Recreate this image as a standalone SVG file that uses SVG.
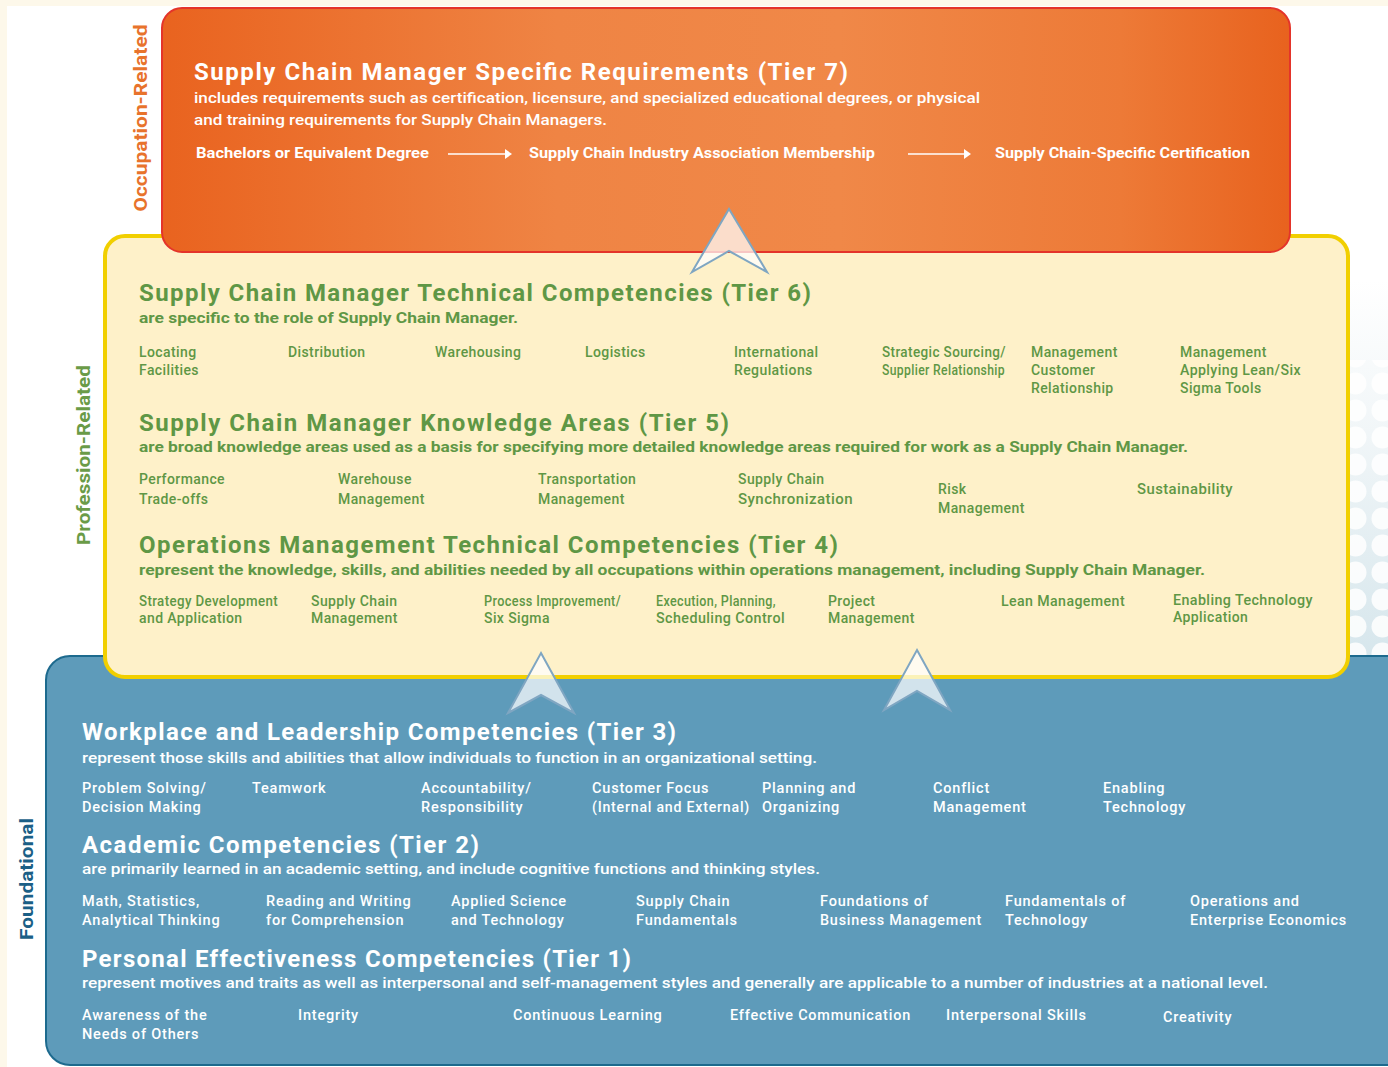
<svg xmlns="http://www.w3.org/2000/svg" width="1388" height="1067" viewBox="0 0 1388 1067">
  <defs>
    <linearGradient id="orangeGrad" x1="0" y1="0" x2="1" y2="0">
      <stop offset="0" stop-color="#e9631f"/>
      <stop offset="0.35" stop-color="#ef8444"/>
      <stop offset="0.6" stop-color="#f08848"/>
      <stop offset="0.85" stop-color="#ed7a37"/>
      <stop offset="1" stop-color="#e8621e"/>
    </linearGradient>
    <linearGradient id="dotFade" x1="0" y1="0" x2="0" y2="1">
      <stop offset="0" stop-color="#ffffff"/>
      <stop offset="0.4" stop-color="#f1f6f8"/>
      <stop offset="1" stop-color="#d6e6ec"/>
    </linearGradient>
    <linearGradient id="dotMaskFade" x1="0" y1="0" x2="0" y2="1">
      <stop offset="0" stop-color="#ffffff" stop-opacity="0"/>
      <stop offset="0.5" stop-color="#ffffff" stop-opacity="0.8"/>
      <stop offset="1" stop-color="#ffffff" stop-opacity="1"/>
    </linearGradient>
    <pattern id="dots" width="27" height="27" patternUnits="userSpaceOnUse" x="1342" y="262">
      <circle cx="13.5" cy="13.5" r="11" fill="#ffffff"/>
    </pattern>
    <style>
      text { font-family: Roboto, "Liberation Sans", Arial, sans-serif; }
      .side { font-size: 18px; font-weight: 700; text-anchor: middle; }
      .title { font-size: 24px; font-weight: 700; }
      .sub { font-size: 15.5px; font-weight: 500; }
      .subb { font-size: 15px; font-weight: 700; }
      .item { font-size: 14px; font-weight: 500; }
      .g.item { letter-spacing: 0.4px; }
      .w.item { font-size: 14.5px; letter-spacing: 0.8px; }
      .req { font-size: 14px; font-weight: 700; }
      .w { fill: #ffffff; }
      .g { fill: #5f9745; }
      .chev { fill: #ffffff; fill-opacity: 0.72; stroke: #7fa6c2; stroke-width: 2; stroke-linejoin: miter; }
    </style>
  </defs>

  <!-- page background -->
  <rect x="0" y="0" width="1388" height="1067" fill="#fdf8ea"/>
  <rect x="7" y="6" width="1381" height="1061" fill="#ffffff"/>
  <rect x="1340" y="280" width="48" height="380" fill="url(#dotFade)"/>
  <rect x="1340" y="360" width="48" height="300" fill="url(#dots)" opacity="0.85"/>

  <!-- side labels -->
  <text class="side" fill="#e8732c" transform="translate(147,118) rotate(-90)" textLength="187" lengthAdjust="spacingAndGlyphs">Occupation-Related</text>
  <text class="side" fill="#6a9b47" transform="translate(90,455) rotate(-90)" textLength="180" lengthAdjust="spacingAndGlyphs">Profession-Related</text>
  <text class="side" fill="#1b5f86" transform="translate(33,879) rotate(-90)" textLength="122" lengthAdjust="spacingAndGlyphs">Foundational</text>

  <!-- Foundational tiers 1-3 -->
  <g id="foundational">
    <rect x="46" y="656" width="1380" height="409" rx="24" fill="#5e9bba" stroke="#1d6a8e" stroke-width="2"/>
    <text class="title w" x="82" y="740" textLength="594" lengthAdjust="spacing">Workplace and Leadership Competencies (Tier 3)</text>
    <text class="sub w" x="82" y="763" textLength="735" lengthAdjust="spacingAndGlyphs">represent those skills and abilities that allow individuals to function in an organizational setting.</text>
    <g class="item w">
      <text x="82" y="793">Problem Solving/</text><text x="82" y="812">Decision Making</text>
      <text x="252" y="793">Teamwork</text>
      <text x="421" y="793">Accountability/</text><text x="421" y="812">Responsibility</text>
      <text x="592" y="793">Customer Focus</text><text x="592" y="812" textLength="158" lengthAdjust="spacingAndGlyphs">(Internal and External)</text>
      <text x="762" y="793">Planning and</text><text x="762" y="812">Organizing</text>
      <text x="933" y="793">Conflict</text><text x="933" y="812">Management</text>
      <text x="1103" y="793">Enabling</text><text x="1103" y="812">Technology</text>
    </g>
    <text class="title w" x="82" y="853" textLength="397" lengthAdjust="spacing">Academic Competencies (Tier 2)</text>
    <text class="sub w" x="82" y="874" textLength="738" lengthAdjust="spacingAndGlyphs">are primarily learned in an academic setting, and include cognitive functions and thinking styles.</text>
    <g class="item w">
      <text x="82" y="906">Math, Statistics,</text><text x="82" y="925">Analytical Thinking</text>
      <text x="266" y="906">Reading and Writing</text><text x="266" y="925">for Comprehension</text>
      <text x="451" y="906">Applied Science</text><text x="451" y="925">and Technology</text>
      <text x="636" y="906">Supply Chain</text><text x="636" y="925">Fundamentals</text>
      <text x="820" y="906">Foundations of</text><text x="820" y="925" textLength="162" lengthAdjust="spacingAndGlyphs">Business Management</text>
      <text x="1005" y="906">Fundamentals of</text><text x="1005" y="925">Technology</text>
      <text x="1190" y="906">Operations and</text><text x="1190" y="925" textLength="157" lengthAdjust="spacingAndGlyphs">Enterprise Economics</text>
    </g>
    <text class="title w" x="82" y="967" textLength="549" lengthAdjust="spacing">Personal Effectiveness Competencies (Tier 1)</text>
    <text class="sub w" x="82" y="988" textLength="1186" lengthAdjust="spacingAndGlyphs">represent motives and traits as well as interpersonal and self-management styles and generally are applicable to a number of industries at a national level.</text>
    <g class="item w">
      <text x="82" y="1020">Awareness of the</text><text x="82" y="1039">Needs of Others</text>
      <text x="298" y="1020">Integrity</text>
      <text x="513" y="1020">Continuous Learning</text>
      <text x="730" y="1020" textLength="181" lengthAdjust="spacingAndGlyphs">Effective Communication</text>
      <text x="946" y="1020">Interpersonal Skills</text>
      <text x="1163" y="1022">Creativity</text>
    </g>
  </g>

  <!-- Profession tiers 4-6 -->
  <g id="profession">
    <rect x="105" y="236" width="1243" height="441" rx="20" fill="#fef1c9" stroke="#f1cf00" stroke-width="4"/>
    <text class="title g" x="139" y="301" textLength="672" lengthAdjust="spacing">Supply Chain Manager Technical Competencies (Tier 6)</text>
    <text class="subb g" x="139" y="323" textLength="379" lengthAdjust="spacingAndGlyphs">are specific to the role of Supply Chain Manager.</text>
    <g class="item g">
      <text x="139" y="357">Locating</text><text x="139" y="375">Facilities</text>
      <text x="288" y="357">Distribution</text>
      <text x="435" y="357">Warehousing</text>
      <text x="585" y="357">Logistics</text>
      <text x="734" y="357">International</text><text x="734" y="375">Regulations</text>
      <text x="882" y="357" textLength="124" lengthAdjust="spacingAndGlyphs">Strategic Sourcing/</text><text x="882" y="375" textLength="123" lengthAdjust="spacingAndGlyphs">Supplier Relationship</text>
      <text x="1031" y="357">Management</text><text x="1031" y="375">Customer</text><text x="1031" y="393">Relationship</text>
      <text x="1180" y="357">Management</text><text x="1180" y="375" textLength="121" lengthAdjust="spacingAndGlyphs">Applying Lean/Six</text><text x="1180" y="393">Sigma Tools</text>
    </g>
    <text class="title g" x="139" y="431" textLength="590" lengthAdjust="spacing">Supply Chain Manager Knowledge Areas (Tier 5)</text>
    <text class="subb g" x="139" y="452" textLength="1049" lengthAdjust="spacingAndGlyphs">are broad knowledge areas used as a basis for specifying more detailed knowledge areas required for work as a Supply Chain Manager.</text>
    <g class="item g">
      <text x="139" y="484">Performance</text><text x="139" y="504">Trade-offs</text>
      <text x="338" y="484">Warehouse</text><text x="338" y="504">Management</text>
      <text x="538" y="484">Transportation</text><text x="538" y="504">Management</text>
      <text x="738" y="484">Supply Chain</text><text x="738" y="504" textLength="115" lengthAdjust="spacingAndGlyphs">Synchronization</text>
      <text x="938" y="494">Risk</text><text x="938" y="513">Management</text>
      <text x="1137" y="494" textLength="96" lengthAdjust="spacingAndGlyphs">Sustainability</text>
    </g>
    <text class="title g" x="139" y="553" textLength="699" lengthAdjust="spacing">Operations Management Technical Competencies (Tier 4)</text>
    <text class="subb g" x="139" y="575" textLength="1066" lengthAdjust="spacingAndGlyphs">represent the knowledge, skills, and abilities needed by all occupations within operations management, including Supply Chain Manager.</text>
    <g class="item g">
      <text x="139" y="606" textLength="139" lengthAdjust="spacingAndGlyphs">Strategy Development</text><text x="139" y="623">and Application</text>
      <text x="311" y="606">Supply Chain</text><text x="311" y="623">Management</text>
      <text x="484" y="606" textLength="137" lengthAdjust="spacingAndGlyphs">Process Improvement/</text><text x="484" y="623">Six Sigma</text>
      <text x="656" y="606" textLength="120" lengthAdjust="spacingAndGlyphs">Execution, Planning,</text><text x="656" y="623" textLength="129" lengthAdjust="spacingAndGlyphs">Scheduling Control</text>
      <text x="828" y="606">Project</text><text x="828" y="623">Management</text>
      <text x="1001" y="606" textLength="124" lengthAdjust="spacingAndGlyphs">Lean Management</text>
      <text x="1173" y="605" textLength="140" lengthAdjust="spacingAndGlyphs">Enabling Technology</text><text x="1173" y="622">Application</text>
    </g>
  </g>

  <!-- Occupation tier 7 -->
  <g id="occupation">
    <rect x="162" y="8" width="1128" height="244" rx="20" fill="url(#orangeGrad)" stroke="#e4342a" stroke-width="2"/>
    <text class="title w" x="194" y="80" textLength="654" lengthAdjust="spacing">Supply Chain Manager Specific Requirements (Tier 7)</text>
    <text class="sub w" x="194" y="103" textLength="786" lengthAdjust="spacingAndGlyphs">includes requirements such as certification, licensure, and specialized educational degrees, or physical</text>
    <text class="sub w" x="194" y="125" textLength="413" lengthAdjust="spacingAndGlyphs">and training requirements for Supply Chain Managers.</text>
    <text class="req w" x="196" y="158" textLength="233" lengthAdjust="spacingAndGlyphs">Bachelors or Equivalent Degree</text>
    <text class="req w" x="529" y="158" textLength="346" lengthAdjust="spacingAndGlyphs">Supply Chain Industry Association Membership</text>
    <text class="req w" x="995" y="158" textLength="255" lengthAdjust="spacingAndGlyphs">Supply Chain-Specific Certification</text>
  </g>

  <!-- connectors -->
  <g id="connectors">
    <g stroke="#ffffff" stroke-width="1.5" fill="#ffffff">
      <line x1="448" y1="154" x2="506" y2="154"/>
      <path d="M505 149 L512 154 L505 159 Z" stroke="none"/>
      <line x1="908" y1="154" x2="965" y2="154"/>
      <path d="M964 149 L971 154 L964 159 Z" stroke="none"/>
    </g>
    <path class="chev" d="M729 209 L767 272 L729 251 L692 272 Z"/>
    <path class="chev" d="M541 653 L574 713 L541 695 L508 713 Z"/>
    <path class="chev" d="M917 650 L950 710 L917 691 L884 710 Z"/>
  </g>
</svg>
